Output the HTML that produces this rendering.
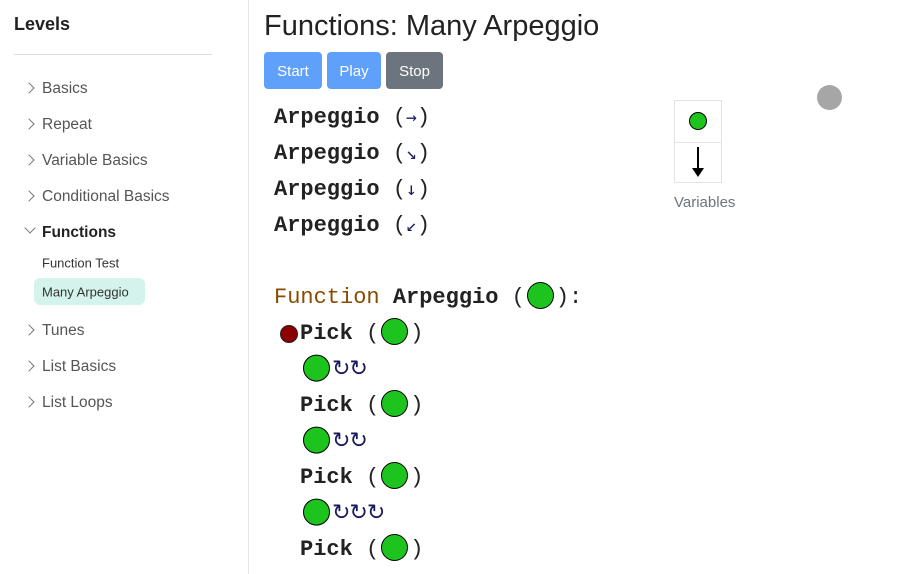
<!DOCTYPE html>
<html><head><style>
body{margin:0;width:903px;height:574px;background:#fff;position:relative;overflow:hidden;font-family:"Liberation Sans",sans-serif}
.a{position:absolute;white-space:nowrap}
.side{position:absolute;left:0;top:0;width:248px;height:574px;border-right:1px solid #e5e5e5}
.it{position:absolute;left:42px;font-size:15.5px;color:#555;transform:translateY(-50%)}
.ch{position:absolute;left:26px;width:7px;height:7px;border-top:1.5px solid #777;border-right:1.5px solid #777;transform:translateY(-50%) rotate(45deg)}
.sub{position:absolute;left:42px;font-size:13px;color:#333;transform:translateY(-50%)}
.btn{position:absolute;top:52px;height:37px;border-radius:4px;color:#fff;font-size:15px;line-height:39px;text-align:center}
.code{position:absolute;font-family:"Liberation Mono",monospace;font-weight:bold;font-size:22px;color:#222;transform:translateY(-50%);white-space:nowrap;line-height:30px}
.g{display:inline-block;width:25px;height:25px;border-radius:50%;background:#1ec41e;border:1.5px solid #000;vertical-align:middle;position:relative;top:-2px;margin:0 2px}
.r{font-family:"DejaVu Sans",sans-serif;color:#1a1a5e;font-weight:normal;font-size:22px;vertical-align:middle;letter-spacing:-1px}
.n{font-weight:normal}
.ar{font-family:"DejaVu Sans Mono",monospace;font-weight:normal;color:#1a1a5e;font-size:18px}
</style></head><body>
<div class="side">
<div class="a" style="left:14px;top:14px;font-size:18px;font-weight:bold;color:#222">Levels</div>
<div class="a" style="left:14px;top:54px;width:198px;border-top:1px solid #ddd"></div>
<div class="ch" style="top:88px;left:25px"></div><div class="it" style="top:89px">Basics</div>
<div class="ch" style="top:124px;left:25px"></div><div class="it" style="top:125px">Repeat</div>
<div class="ch" style="top:160px;left:25px"></div><div class="it" style="top:161px">Variable Basics</div>
<div class="ch" style="top:196px;left:25px"></div><div class="it" style="top:197px">Conditional Basics</div>
<div class="ch" style="top:228px;left:26px;transform:translateY(-50%) rotate(135deg)"></div><div class="it" style="top:233px;color:#222;font-weight:bold">Functions</div>
<div class="sub" style="top:263px">Function Test</div>
<div class="a" style="left:34px;top:278px;width:111px;height:27px;background:#d4f3ec;border-radius:6px"></div>
<div class="sub" style="top:292px">Many Arpeggio</div>
<div class="ch" style="top:330px;left:25px"></div><div class="it" style="top:331px">Tunes</div>
<div class="ch" style="top:366px;left:25px"></div><div class="it" style="top:367px">List Basics</div>
<div class="ch" style="top:402px;left:25px"></div><div class="it" style="top:403px">List Loops</div>
</div>
<div class="a" style="left:264px;top:10px;font-size:29px;color:#222">Functions: Many Arpeggio</div>
<div class="btn" style="left:264px;width:58px;background:#5fa0fb">Start</div>
<div class="btn" style="left:327px;width:54px;background:#5fa0fb">Play</div>
<div class="btn" style="left:386px;width:57px;background:#6c757d">Stop</div>
<div class="code" style="left:274px;top:118px">Arpeggio <span class="n">(</span><span class="ar">→</span><span class="n">)</span></div>
<div class="code" style="left:274px;top:154px">Arpeggio <span class="n">(</span><span class="ar">↘</span><span class="n">)</span></div>
<div class="code" style="left:274px;top:190px">Arpeggio <span class="n">(</span><span class="ar">↓</span><span class="n">)</span></div>
<div class="code" style="left:274px;top:226px">Arpeggio <span class="n">(</span><span class="ar">↙</span><span class="n">)</span></div>
<div class="code" style="left:274px;top:298px"><span class="n" style="color:#8a4a00">Function</span> Arpeggio <span class="n">(</span><span class="g"></span><span class="n">):</span></div>
<div class="a" style="left:280px;top:325px;width:16px;height:16px;border-radius:50%;background:#8b0000;border:1px solid #222"></div>
<div class="code" style="left:300px;top:334px">Pick <span class="n">(</span><span class="g"></span><span class="n">)</span></div>
<div class="code" style="left:301px;top:370px"><span class="g"></span><span class="r">↻↻</span></div>
<div class="code" style="left:300px;top:406px">Pick <span class="n">(</span><span class="g"></span><span class="n">)</span></div>
<div class="code" style="left:301px;top:442px"><span class="g"></span><span class="r">↻↻</span></div>
<div class="code" style="left:300px;top:478px">Pick <span class="n">(</span><span class="g"></span><span class="n">)</span></div>
<div class="code" style="left:301px;top:514px"><span class="g"></span><span class="r">↻↻↻</span></div>
<div class="code" style="left:300px;top:550px">Pick <span class="n">(</span><span class="g"></span><span class="n">)</span></div>
<div class="a" style="left:674px;top:100px;width:46px;height:41px;border:1px solid #e3e3e3"></div>
<div class="a" style="left:674px;top:141px;width:46px;height:41px;border:1px solid #e3e3e3;border-top:none"></div>
<div class="a" style="left:689px;top:112px;width:16px;height:16px;border-radius:50%;background:#1ec41e;border:1px solid #000"></div>
<div class="a" style="left:697px;top:147px;width:2px;height:22px;background:#000"></div>
<div class="a" style="left:692px;top:168px;width:0;height:0;border-left:6px solid transparent;border-right:6px solid transparent;border-top:9px solid #000"></div>
<div class="a" style="left:674px;top:194px;font-size:15px;color:#6c757d">Variables</div>
<div class="a" style="left:817px;top:85px;width:25px;height:25px;border-radius:50%;background:#a6a6a6"></div>
</body></html>
